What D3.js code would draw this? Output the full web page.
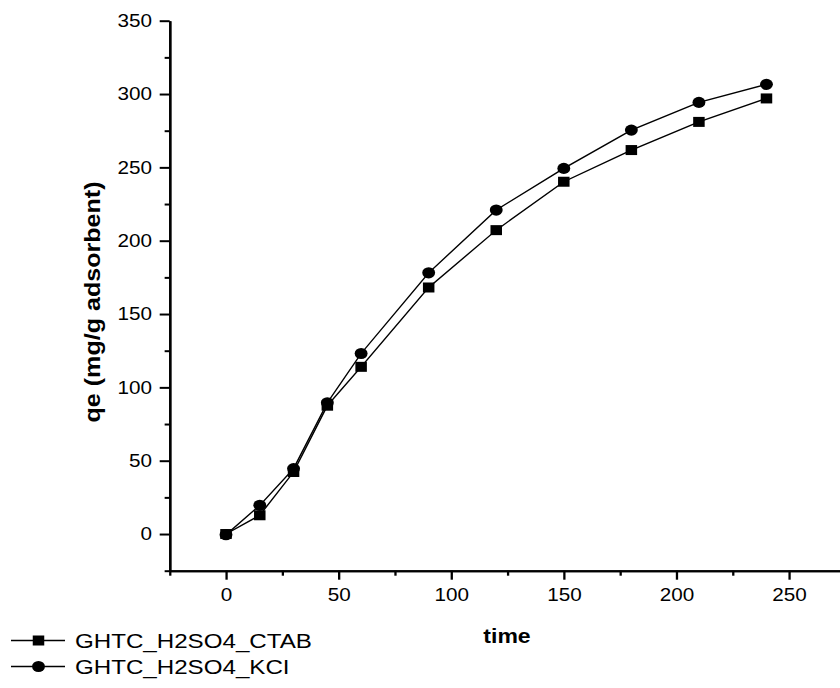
<!DOCTYPE html>
<html>
<head>
<meta charset="utf-8">
<script src="https://cdn.jsdelivr.net/npm/d3@7"></script>
<style>
  body { margin: 0; background: #fff; }
  svg text { font-family: "Liberation Sans", Arial, sans-serif; fill: #000; }
</style>
</head>
<body>
<div id="chart"></div>
<script>
// data
const times = [0, 15, 30, 45, 60, 90, 120, 150, 180, 210, 240];
const ctabValues = [0, 12.8, 42.3, 87.5, 114, 168.1, 207.2, 240.2, 261.8, 281, 297];
const kclValues = [-0.5, 19.6, 44.6, 89.5, 123.1, 178.1, 220.9, 249.3, 275.4, 294.3, 306.6];
const seriesNames = ["GHTC_H2SO4_CTAB", "GHTC_H2SO4_KCI"];
const xMajorTicks = [0, 50, 100, 150, 200, 250];
const xMinorTicks = [-25, 25, 75, 125, 175, 225, 275];
const yMajorTicks = [0, 50, 100, 150, 200, 250, 300, 350];
const yMinorTicks = [-25, 25, 75, 125, 175, 225, 275, 325];

const W = 840, H = 688;
// the reference is stretched a bit horizontally, so draw in a scaled group
const SX = 1.15;

const svg = d3.select("#chart").append("svg")
  .attr("width", W).attr("height", H);

const root = svg.append("g").attr("transform", `scale(${SX},1)`);

const x = d3.scaleLinear()
  .domain([-25, 275])
  .range([169.7 / SX, 845.3 / SX]);

const y = d3.scaleLinear()
  .domain([-25, 350])
  .range([570.7, 20.7]);

const axisBottom = x.range()[0];

// axes
const xg = root.append("g").attr("transform", `translate(0,${y(-25)})`);
xg.call(d3.axisBottom(x).tickValues(xMajorTicks).tickSize(9).tickSizeOuter(0).tickPadding(8.5));
const xm = root.append("g").attr("transform", `translate(0,${y(-25)})`);
xm.call(d3.axisBottom(x).tickValues(xMinorTicks).tickSize(5).tickSizeOuter(0).tickFormat(""));

const yg = root.append("g").attr("transform", `translate(${x(-25)},0)`);
yg.call(d3.axisLeft(y).tickValues(yMajorTicks).tickSize(8.7).tickSizeOuter(0).tickPadding(6.8));
const ym = root.append("g").attr("transform", `translate(${x(-25)},0)`);
ym.call(d3.axisLeft(y).tickValues(yMinorTicks).tickSize(4.4).tickSizeOuter(0).tickFormat(""));

root.selectAll(".domain").attr("stroke", "#000").attr("stroke-width", 2);
root.selectAll(".tick line").attr("stroke", "#000").attr("stroke-width", 2);
root.selectAll(".tick text").attr("font-size", 18).attr("fill", "#000");

// axis titles
root.append("text")
  .attr("x", 507 / SX).attr("y", 643)
  .attr("text-anchor", "middle")
  .attr("font-size", 20).attr("font-weight", "bold")
  .text("time");

root.append("text")
  .attr("transform", `translate(${93 / SX},302) rotate(-90)`)
  .attr("text-anchor", "middle")
  .attr("dy", "0.35em")
  .attr("font-size", 18.5).attr("font-weight", "bold")
  .attr("textLength", 241).attr("lengthAdjust", "spacingAndGlyphs")
  .text("qe (mg/g adsorbent)");

// series
const series = [
  { name: seriesNames[0], values: ctabValues, marker: "square" },
  { name: seriesNames[1], values: kclValues, marker: "circle" }
];

const line = d3.line()
  .x(d => x(d.t))
  .y(d => y(d.v));

function drawMarker(g, type, cx, cy) {
  if (type === "square") {
    g.append("rect")
      .attr("x", cx - 5).attr("y", cy - 5)
      .attr("width", 10).attr("height", 10)
      .attr("fill", "#000");
  } else {
    g.append("circle")
      .attr("cx", cx).attr("cy", cy)
      .attr("r", 5.6)
      .attr("fill", "#000");
  }
}

series.forEach(s => {
  const pts = times.map((t, i) => ({ t, v: s.values[i] }));
  const g = root.append("g");
  g.append("path")
    .datum(pts)
    .attr("d", line)
    .attr("fill", "none")
    .attr("stroke", "#000")
    .attr("stroke-width", 1.3);
  pts.forEach(p => drawMarker(g, s.marker, x(p.t), y(p.v)));
});

// legend
const legendRows = [640.5, 666.5];
series.forEach((s, i) => {
  const lg = root.append("g");
  const cy = legendRows[i];
  lg.append("line")
    .attr("x1", 11 / SX).attr("x2", 65 / SX)
    .attr("y1", cy).attr("y2", cy)
    .attr("stroke", "#000").attr("stroke-width", 1.3);
  drawMarker(lg, s.marker, 38.5 / SX, cy);
  lg.append("text")
    .attr("x", 75 / SX).attr("y", cy + 7.6)
    .attr("font-size", 21)
    .text(s.name);
});
</script>
</body>
</html>
